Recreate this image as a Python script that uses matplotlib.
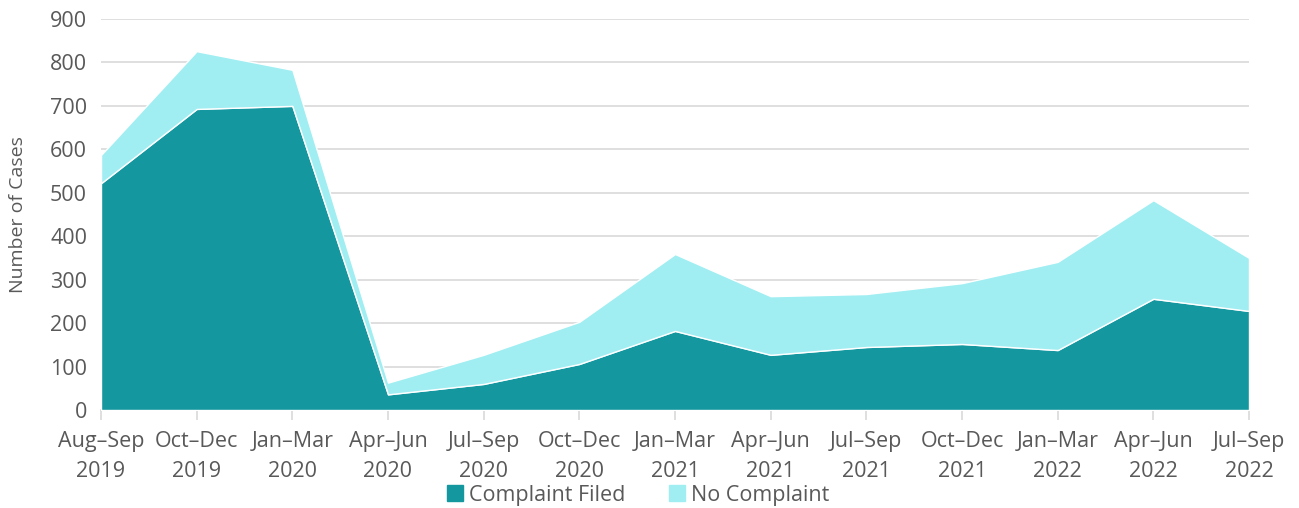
import matplotlib
matplotlib.use("Agg")
import matplotlib.pyplot as plt
from matplotlib.patches import Patch

categories = ["Aug–Sep\n2019", "Oct–Dec\n2019", "Jan–Mar\n2020", "Apr–Jun\n2020",
              "Jul–Sep\n2020", "Oct–Dec\n2020", "Jan–Mar\n2021", "Apr–Jun\n2021",
              "Jul–Sep\n2021", "Oct–Dec\n2021", "Jan–Mar\n2022", "Apr–Jun\n2022",
              "Jul–Sep\n2022"]
complaint_filed = [522, 693, 700, 36, 60, 106, 182, 127, 145, 152, 138, 256, 228]
total_cases = [587, 826, 783, 63, 127, 203, 359, 262, 267, 292, 341, 483, 350]
no_complaint = [t - c for t, c in zip(total_cases, complaint_filed)]
yticks = [0, 100, 200, 300, 400, 500, 600, 700, 800, 900]

plt.rcParams['font.family'] = ['Open Sans', 'DejaVu Sans']
txt = '#595959'
dark = '#1597a0'
light = '#a0eef2'
fs = 15.5

fig = plt.figure(figsize=(12.99, 5.08), dpi=100)
ax = fig.add_axes([101/1299, 1-410/508, (1249-101)/1299, (410-19)/508])
x = list(range(len(categories)))
ax.stackplot(x, complaint_filed, no_complaint, colors=[dark, light],
             edgecolor='white', linewidth=1.0, zorder=3)
ax.set_xlim(0, len(categories)-1)
ax.set_ylim(0, 900)
ax.set_yticks(yticks)
ax.set_xticks(x)
ax.set_xticklabels(categories, color=txt, fontsize=fs, linespacing=1.6)
ax.tick_params(axis='y', colors=txt, labelsize=fs, length=0, pad=10)
ax.tick_params(axis='x', colors='#d9d9d9', labelcolor=txt, length=7, width=1.2, pad=8, direction='out')
for s in ['top', 'right', 'left']:
    ax.spines[s].set_visible(False)
ax.spines['bottom'].set_color('#d9d9d9')
ax.spines['bottom'].set_linewidth(1.2)
ax.grid(axis='y', color='#d9d9d9', linewidth=1.2, zorder=0)
ax.set_axisbelow(True)
ax.set_ylabel("Number of Cases", color=txt, fontsize=14)
ax.yaxis.set_label_coords(-74/1148, 0.5)

handles = [Patch(color=dark, label='Complaint Filed'), Patch(color=light, label='No Complaint')]
fig.legend(handles=handles, loc='center', bbox_to_anchor=(638/1299, 1-495/508), ncol=2,
           frameon=False, fontsize=fs, handlelength=0.75, handleheight=0.75,
           handletextpad=0.3, columnspacing=2.0, labelcolor=txt)
fig.savefig("out.png", dpi=100)
